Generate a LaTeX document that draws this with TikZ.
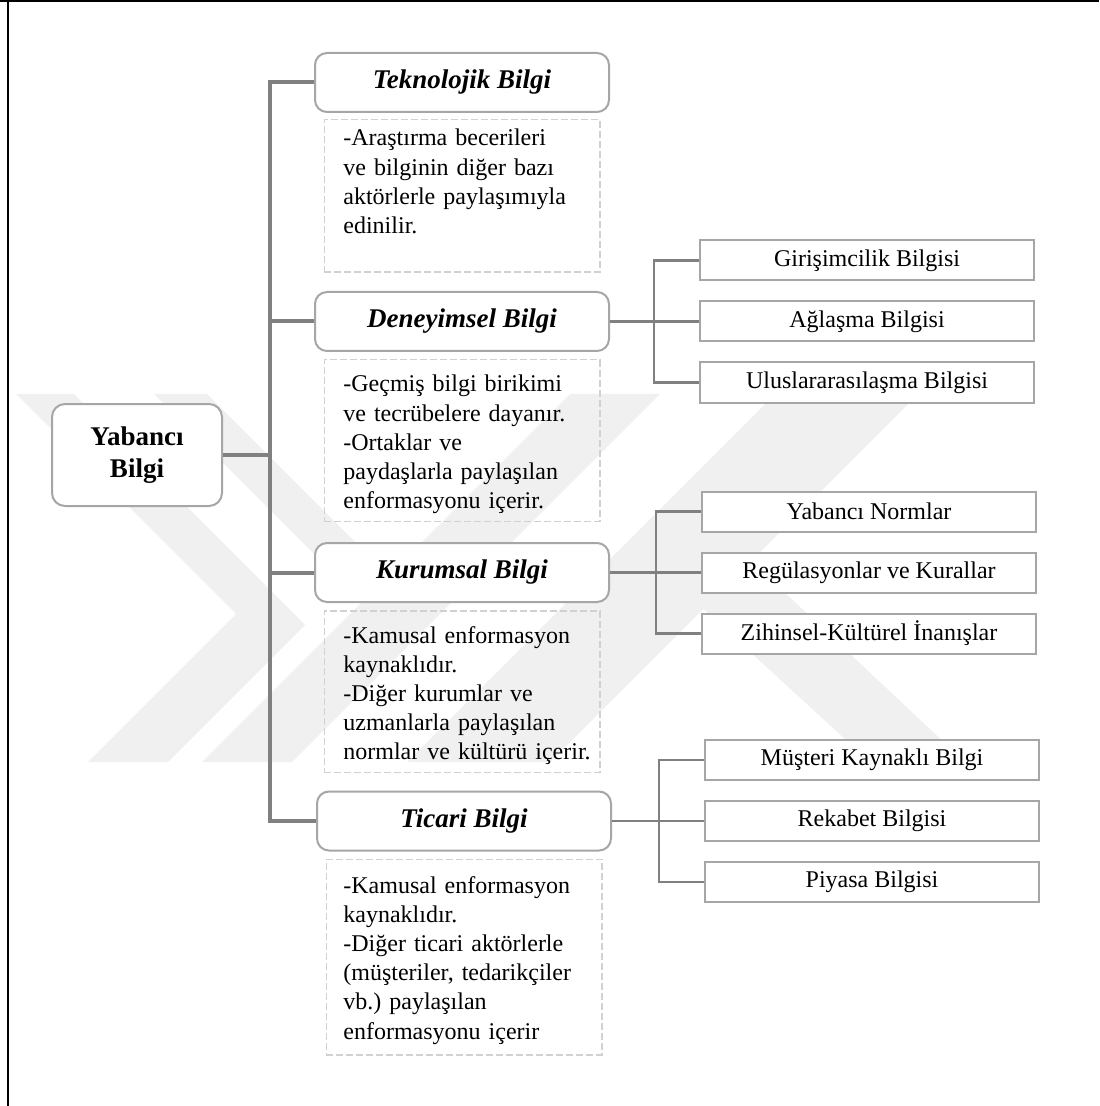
\documentclass[tikz,border=0pt]{standalone}
\usepackage{fontspec}
\setmainfont{Liberation Serif}
\usepackage{xcolor}
\usepackage{tikz}
\usetikzlibrary{positioning}
\frenchspacing

\begin{document}
\begin{tikzpicture}[x=0.5pt, y=-0.5pt,
				rootbox/.style={rectangle, rounded corners=6.5pt, draw=black!35, line width=1pt, fill=white,
						minimum width=85pt, minimum height=51pt, align=center,
						font=\fontsize{13.5}{16}\selectfont\bfseries},
				kind/.style={rectangle, rounded corners=6pt, draw=black!35, line width=1pt, fill=white,
						minimum width=147pt, minimum height=29.5pt,
						font=\fontsize{13.5}{16}\selectfont\bfseries\itshape},
				descframe/.style={rectangle, draw=black!18, dash pattern=on 3.5pt off 1.5pt,
						line width=0.75pt, minimum width=137.75pt},
				desctext/.style={inner sep=0pt, text width=128pt, align=left,
						font=\fontsize{12}{14.6}\selectfont},
				subbox/.style={rectangle, draw=black!35, line width=1pt, fill=white,
						minimum width=167pt, minimum height=20pt,
						font=\fontsize{12}{14.4}\selectfont},
				trunk/.style={draw=black!50, line width=2pt},
				branch/.style={draw=black!50, line width=1.25pt}
			]

			\useasboundingbox (0,0) rectangle (1099,1106);

			% watermark behind the chart
			\fill[black!6] (16,394) -- (74,394) -- (305,625) -- (168,762) -- (88,762) -- (236,614) -- cycle;
			\fill[black!6] (154,394) -- (207,394) -- (388.5,575.5) -- (362,602) -- cycle;
			\fill[black!6] (570,394) -- (660,394) -- (292,762) -- (202,762) -- cycle;
			\fill[black!6] (775,394) -- (918,394) -- (550,762) -- (407,762) -- cycle;
			\fill[black!6] (700,606) -- (748,558) -- (965,762) -- (870,762) -- cycle;

			% page frame
			\draw[line width=1pt] (0,1) -- (1099,1);
			\draw[line width=1pt] (8,0) -- (8,1106);

			% Root and the four kinds of knowledge
			\node[rootbox] (root) at (137,455) {Yabancı\\Bilgi};
			\node[kind] (tekno) at (462,82.5) {Teknolojik Bilgi};
			\node[kind] (deney) at (462,321.5) {Deneyimsel Bilgi};
			\node[kind] (kurum) at (462,572.5) {Kurumsal Bilgi};
			\node[kind] (ticari) at (464,821) {Ticari Bilgi};

			% Dashed notes under each kind
			\node[descframe, minimum height=76.25pt, below=3pt of tekno] (tekframe) {};
			\node[descframe, minimum height=80.75pt, below=3.5pt of deney] (deneyframe) {};
			\node[descframe, minimum height=80.75pt, below=3.5pt of kurum] (kurumframe) {};
			\node[descframe, minimum height=97.75pt, below=3.5pt of ticari] (ticariframe) {};

			\node[desctext, anchor=base west] (teknote) at (343,146)
				{-Araştırma becerileri\\ve bilginin diğer bazı\\aktörlerle paylaşımıyla\\edinilir.};
			\node[desctext, anchor=base west] (deneynote) at (343,392)
				{-Geçmiş bilgi birikimi\\ve tecrübelere dayanır.\\-Ortaklar ve\\paydaşlarla paylaşılan\\enformasyonu içerir.};
			\node[desctext, anchor=base west] (kurumnote) at (343,643)
				{-Kamusal enformasyon\\kaynaklıdır.\\-Diğer kurumlar ve\\uzmanlarla paylaşılan\\normlar ve kültürü içerir.};
			\node[desctext, anchor=base west] (ticarinote) at (343,893)
				{-Kamusal enformasyon\\kaynaklıdır.\\-Diğer ticari aktörlerle\\(müşteriler, tedarikçiler\\vb.) paylaşılan\\enformasyonu içerir};

			% Sub boxes
			\node[subbox] (aglasma) at (867,321.5) {Ağlaşma Bilgisi};
			\node[subbox, above=9.5pt of aglasma] (girisim) {Girişimcilik Bilgisi};
			\node[subbox, below=9.5pt of aglasma] (ulus) {Uluslararasılaşma Bilgisi};

			\node[subbox] (regul) at (869,572.5) {Regülasyonlar ve Kurallar};
			\node[subbox, above=9.5pt of regul] (normlar) {Yabancı Normlar};
			\node[subbox, below=9.5pt of regul] (zihin) {Zihinsel-Kültürel İnanışlar};

			\node[subbox] (rekabet) at (872,821) {Rekabet Bilgisi};
			\node[subbox, above=9.5pt of rekabet] (musteri) {Müşteri Kaynaklı Bilgi};
			\node[subbox, below=9.5pt of rekabet] (piyasa) {Piyasa Bilgisi};

			% Lines
			\coordinate (spine) at (270,82.5);
			\draw[trunk] (tekno.west) -- (spine) |- (ticari.west);
			\draw[trunk] (deney.west) -- (deney.west -| spine);
			\draw[trunk] (kurum.west) -- (kurum.west -| spine);
			\draw[trunk, line width=1.8pt] (root.east) -- (root.east -| spine);

			\draw[branch] (deney.east) -- (aglasma.west);
			\draw[branch] (girisim.west) -- ++(-22.5pt,0) |- (ulus.west);
			\draw[branch] (kurum.east) -- (regul.west);
			\draw[branch] (normlar.west) -- ++(-22.5pt,0) |- (zihin.west);
			\draw[branch] (ticari.east) -- (rekabet.west);
			\draw[branch] (musteri.west) -- ++(-22.5pt,0) |- (piyasa.west);

		\end{tikzpicture}
\end{document}
